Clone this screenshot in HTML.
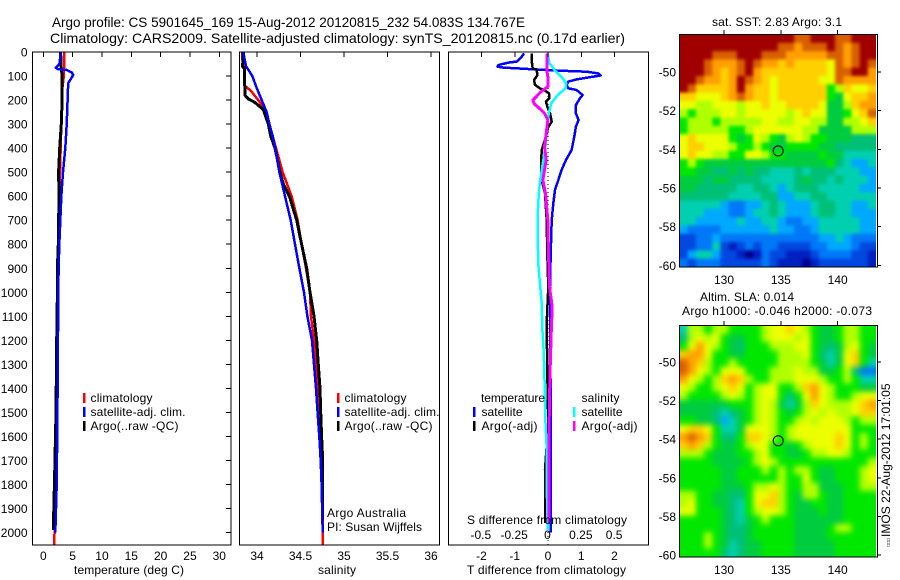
<!DOCTYPE html>
<html lang="en">
<head>
<meta charset="utf-8">
<title>Argo profile CS 5901645_169</title>
<style>
html,body{margin:0;padding:0;background:#fff;}
svg{display:block;}
text{font-family:"Liberation Sans",sans-serif;font-size:12px;fill:#000;}
.title{font-size:14px;}
</style>
</head>
<body>
<svg id="chart" xmlns="http://www.w3.org/2000/svg" width="900" height="580" viewBox="0 0 900 580">
  <defs>
    <filter id="soften-sst" x="-10%" y="-10%" width="120%" height="120%" color-interpolation-filters="sRGB"><feGaussianBlur stdDeviation="1.6"/></filter>
    <filter id="soften-sla" x="-10%" y="-10%" width="120%" height="120%" color-interpolation-filters="sRGB"><feGaussianBlur stdDeviation="3"/></filter>
    <clipPath id="clip-sst"><rect x="679.5" y="34.5" width="196.5" height="232.5"/></clipPath>
    <clipPath id="clip-sla"><rect x="679.5" y="325.5" width="196.5" height="231.5"/></clipPath>
  </defs>
  <rect x="0" y="0" width="900" height="580" fill="#fff"/>
  <text class="title" x="52" y="27" textLength="473" lengthAdjust="spacingAndGlyphs">Argo profile: CS 5901645_169 15-Aug-2012 20120815_232 54.083S 134.767E</text>
  <text class="title" x="50" y="43" textLength="575" lengthAdjust="spacingAndGlyphs">Climatology: CARS2009. Satellite-adjusted climatology: synTS_20120815.nc (0.17d earlier)</text>

  <g id="layer-marks"></g>

  <text x="74" y="574" textLength="110">temperature (deg C)</text>
  <text x="318" y="574" textLength="38">salinity</text>
  <text x="467" y="574" textLength="159">T difference from climatology</text>
  <text x="467" y="524" textLength="160">S difference from climatology</text>

  <text x="90.5" y="402" textLength="62">climatology</text>
  <text x="90.5" y="416" textLength="95">satellite-adj. clim.</text>
  <text x="90.5" y="430" textLength="88">Argo(..raw -QC)</text>
  <text x="344.5" y="402" textLength="62">climatology</text>
  <text x="344.5" y="416" textLength="95">satellite-adj. clim.</text>
  <text x="344.5" y="430" textLength="88">Argo(..raw -QC)</text>
  <text x="327" y="517" textLength="79">Argo Australia</text>
  <text x="327" y="531" textLength="95">PI: Susan Wijffels</text>

  <text x="481" y="402" textLength="64">temperature</text>
  <text x="481.5" y="416" textLength="41">satellite</text>
  <text x="481.5" y="430" textLength="56">Argo(-adj)</text>
  <text x="581.5" y="402" textLength="38">salinity</text>
  <text x="581.5" y="416" textLength="41">satellite</text>
  <text x="581.5" y="430" textLength="56">Argo(-adj)</text>

  <text x="712" y="26" textLength="130">sat. SST: 2.83 Argo: 3.1</text>
  <text x="700" y="301" textLength="94">Altim. SLA: 0.014</text>
  <text x="682" y="315" textLength="190">Argo h1000: -0.046 h2000: -0.073</text>
  <text transform="translate(890 547) rotate(-90)" x="0" y="0"><tspan font-size="5" style="font-size:5px">□□□</tspan><tspan dx="1">IMOS 22-Aug-2012 17:01:05</tspan></text>
</svg>

<script>
/* depth-profile data: depths in metres, temperature in deg C, salinity in PSU */
const climTempDepth = [0,100,150,200,300,500,1000,1500,2053];
const climTempValue = [3.6,3.5,3.25,3.2,3.07,2.85,2.5,2.28,1.87];
const satTempDepth = [0,30,50,65,72,75,85,95,110,130,200,300,400,500,600,700,800,900,1000,1500,1800,2000];
const satTempValue = [2.96,2.85,2.75,2.11,2.55,3.99,4.84,5.1,4.76,4.25,4.15,3.98,3.75,3.35,3.07,2.9,2.73,2.6,2.56,2.4,2.28,2.05];
const argoTempDepth = [0,50,100,200,300,400,500,600,800,900,1000,1200,1500,1750,1990];
const argoTempValue = [2.96,3,3.2,3.2,3.07,2.8,2.6,2.67,2.55,2.4,2.4,2.28,2.17,1.94,1.7];

const climSalDepth = [0,50,60,70,140,145,160,200,240,300,400,500,600,700,800,900,1000,1100,1200,1300,1400,1500,1700,2000,2053];
const climSalValue = [33.831,33.835,33.862,33.854,33.862,33.874,33.927,34.015,34.092,34.142,34.218,34.295,34.398,34.467,34.513,34.563,34.609,34.621,34.655,34.678,34.705,34.724,34.743,34.755,34.755];
const satSalDepth = [0,60,80,100,150,200,250,300,350,400,500,600,700,800,900,1000,1100,1200,1300,1400,1500,1600,1700,1800,2000];
const satSalValue = [33.843,33.874,33.912,33.946,33.996,34.054,34.111,34.142,34.18,34.207,34.257,34.322,34.387,34.437,34.487,34.54,34.579,34.632,34.655,34.678,34.697,34.716,34.732,34.743,34.755];
const argoSalDepth = [0,60,70,180,195,210,240,300,350,400,500,550,600,700,800,900,1000,1100,1200,1300,1400,1500,1600,1700,1950];
const argoSalValue = [33.843,33.835,33.854,33.862,33.9,33.977,34.073,34.13,34.157,34.207,34.264,34.303,34.372,34.456,34.513,34.571,34.609,34.655,34.686,34.705,34.724,34.732,34.743,34.755,34.755];

const satTDiffDepth = [6,19,40,44,54,61,65,72,78,82,89,98,105,114,123,137,151,158,179,193,221,255,283,311,352,408,449,491,533,574,630,699,838,977,1500,2000];
const satTDiffValue = [-0.72,-0.79,-0.94,-1.19,-1.49,-1.52,-1.34,-0.44,0.36,1.16,1.51,1.58,1.26,0.86,0.61,0.56,0.61,0.86,1.04,0.96,0.84,0.84,0.92,0.84,0.79,0.71,0.54,0.41,0.31,0.21,0.16,0.11,0.08,0.06,0.08,0.08];
const argoTDiffDepth = [6,47,68,75,96,117,137,151,161,172,193,207,227,255,290,311,352,408,477,533,588,699,838,977,1129,1337,1546,1739,1961];
const argoTDiffValue = [-0.49,-0.48,-0.46,-0.34,-0.32,-0.42,-0.39,-0.24,-0.09,0.03,0.04,-0.06,-0.02,0.06,0.11,0.01,-0.06,-0.19,-0.21,-0.19,-0.09,-0.04,-0.02,0.01,-0.04,-0.02,0.01,-0.09,-0.09];
const satSDiffDepth = [6,47,75,102,130,151,179,213,255,311,394,463,533,588,671,768,879,990,1046,1143,1254,1407,1545,1656,1823,1989];
const satSDiffValue = [0.0025,0.015,0.0525,0.1025,0.14,0.135,0.0775,0.0275,0.01,-0.005,-0.015,-0.035,-0.055,-0.065,-0.0725,-0.0725,-0.07,-0.0525,-0.0425,-0.04,-0.0275,-0.02,-0.015,-0.005,-0.005,0.0025];
const argoSDiffDepth = [6,47,75,102,123,144,165,186,200,217,232,255,283,339,394,449,533,588,699,838,977,1060,1171,1310,1448,1642,1961];
const argoSDiffValue = [-0.005,-0.005,-0.005,0.0025,0.0025,0.0025,-0.0475,-0.085,-0.11,-0.0975,-0.065,-0.0225,0.0025,-0.01,-0.0225,-0.01,-0.035,-0.015,0.0025,0.0075,0.015,0.035,0.0275,0.02,0.015,0.01,0.01];

/* tick labels */
const depthTicks = [0,100,200,300,400,500,600,700,800,900,1000,1100,1200,1300,1400,1500,1600,1700,1800,1900,2000];
const tempTicks = [0,5,10,15,20,25,30];
const salTicks = [34,34.5,35,35.5,36];
const tDiffTicks = [-2,-1,0,1,2];
const sDiffTicks = [-0.5,-0.25,0,0.25,0.5];
const lonTicks = [130,135,140];
const latTicks = [-50,-52,-54,-56,-58,-60];
const argoLon = 134.767;
const argoLat = -54.083;

/* satellite SST, colour level per cell, north to south */
const sstGrid = [
[14,14,14,14,14,14,14,14,14,14,14,14,14,14,13,13,14,14,14,13,13,14,14,14],
[14,14,14,14,14,14,14,14,14,14,14,14,13,13,12,13,13,13,14,13,12,13,14,14],
[14,14,14,14,13,13,13,14,14,14,13,13,13,12,12,12,12,12,13,13,12,13,14,14],
[14,14,14,13,12,12,12,13,14,13,12,12,11,12,11,11,11,11,10,13,12,13,14,13],
[14,14,14,13,12,11,12,13,14,12,11,11,11,11,11,11,11,11,10,13,13,14,14,12],
[14,14,13,12,12,11,12,14,13,12,11,10,11,11,11,11,11,10,10,13,12,12,12,12],
[14,13,11,11,11,11,12,14,12,11,11,10,11,11,11,11,11,11,8,9,11,10,10,11],
[11,11,10,10,10,11,12,13,12,11,11,10,11,11,11,11,11,11,8,7,10,11,11,12],
[10,10,9,9,10,10,10,9,10,10,11,10,10,11,11,11,11,10,7,7,9,11,12,12],
[9,8,9,9,9,10,10,9,10,10,10,10,10,9,10,11,10,10,7,7,8,10,11,13],
[8,9,9,9,8,9,9,9,9,9,10,10,9,9,10,10,9,9,7,7,9,9,10,11],
[8,9,9,9,9,9,8,8,9,10,10,10,10,10,10,9,9,7,7,7,7,9,9,9],
[10,11,10,10,10,10,8,7,8,10,9,8,7,9,10,9,8,8,7,7,7,6,6,6],
[10,11,11,10,10,10,9,8,8,9,8,7,7,8,8,8,8,7,7,6,6,6,6,6],
[10,11,10,10,9,9,8,8,10,10,9,8,8,7,7,7,7,8,7,7,5,5,5,5],
[8,9,8,7,7,7,7,7,7,7,7,7,7,7,7,7,7,7,8,6,5,4,4,5],
[8,8,7,7,6,6,7,6,7,6,6,5,5,5,6,5,6,6,6,5,5,5,4,4],
[7,7,7,6,7,7,6,6,6,6,5,5,5,5,6,7,6,6,5,6,5,5,5,4],
[7,7,6,6,6,6,6,5,5,6,6,5,4,5,6,6,6,5,5,5,5,5,4,4],
[6,6,6,6,6,6,5,5,5,5,6,6,4,4,5,5,6,6,5,5,5,5,5,5],
[5,5,5,5,5,4,3,3,4,4,5,6,5,4,4,4,5,6,6,5,5,4,4,5],
[5,5,5,4,4,4,3,3,4,5,5,6,5,4,4,4,5,6,6,5,5,4,4,4],
[5,5,4,4,4,4,4,5,4,4,5,5,4,3,3,4,4,5,5,5,5,5,4,4],
[4,3,3,3,3,4,4,4,4,4,4,5,4,4,3,3,4,5,5,5,5,5,4,4],
[2,2,3,3,4,3,3,3,3,3,3,3,3,3,3,3,3,4,4,5,4,3,3,3],
[2,2,3,3,5,2,1,2,3,2,3,3,2,2,2,2,3,3,4,4,4,3,2,2],
[2,4,5,5,4,2,2,1,0,1,3,2,2,1,1,1,2,3,3,3,3,2,2,1],
[3,2,3,3,3,2,2,2,2,2,3,2,1,1,1,0,1,2,2,2,2,2,2,1]
];

/* altimetric SLA, colour level per cell, north to south */
const slaGrid = [
[5,9,9,8,9,9,8,8,8,8,9,10,10,11,10,9,8,7,7,8,9,9,8,8],
[6,9,10,9,10,8,7,7,8,8,9,10,10,10,9,10,8,7,7,8,9,9,8,8],
[8,10,12,10,9,8,7,6,8,8,8,9,9,9,10,10,8,7,6,7,9,10,8,7],
[11,12,12,10,8,8,7,7,8,8,8,8,9,9,9,10,8,6,5,7,10,11,8,7],
[13,12,11,9,8,8,9,8,8,8,8,8,9,9,9,9,8,7,5,7,10,11,8,5],
[13,12,10,9,8,10,10,10,8,8,8,9,9,9,10,9,9,7,7,8,9,6,3,3],
[12,10,9,8,9,11,12,11,9,8,8,9,9,9,10,10,10,9,8,8,9,8,5,5],
[10,9,8,8,9,10,11,10,8,9,10,10,8,8,9,11,12,10,9,8,8,8,7,7],
[9,8,8,8,8,9,10,9,8,9,10,10,8,6,8,10,12,10,9,8,8,9,10,10],
[7,7,7,7,7,7,8,8,8,9,10,9,7,5,7,9,11,10,9,9,9,10,11,12],
[7,7,7,7,6,5,6,7,8,9,10,9,8,7,8,9,10,9,10,9,9,10,11,11],
[8,8,7,7,6,4,5,7,8,9,10,9,8,8,9,10,9,10,10,10,9,8,9,9],
[10,11,11,10,8,5,5,7,10,10,10,9,8,9,10,10,10,10,10,10,10,8,8,8],
[12,13,12,11,8,6,6,8,11,11,10,9,8,9,10,10,10,10,10,11,10,8,9,8],
[11,12,11,9,8,7,7,8,9,10,10,8,8,7,8,9,10,10,10,11,10,8,9,8],
[9,9,9,8,7,7,7,8,8,9,10,8,8,7,7,8,9,9,10,10,9,8,8,8],
[8,8,8,8,7,7,7,7,8,9,10,9,8,8,8,8,8,8,8,8,8,8,8,9],
[8,8,8,8,8,7,7,8,8,8,9,8,9,8,9,9,8,7,7,8,8,8,9,10],
[8,8,8,8,8,7,7,8,8,8,8,8,9,8,8,10,8,7,7,8,8,8,9,10],
[8,8,8,8,8,7,7,7,8,9,9,10,9,8,8,9,9,7,7,7,8,8,9,9],
[9,9,8,8,7,7,6,6,8,10,10,11,9,8,7,9,9,8,7,7,8,8,8,8],
[9,10,8,8,7,7,6,5,8,10,11,11,9,8,7,7,8,8,7,7,8,8,8,8],
[10,10,8,8,8,7,6,5,8,9,10,10,9,8,7,7,7,8,7,7,8,8,8,8],
[8,8,8,8,8,7,6,5,7,8,9,8,8,8,7,7,7,7,7,7,8,8,8,8],
[8,8,8,8,8,7,6,6,7,8,8,8,8,8,7,7,7,7,8,9,9,8,8,8],
[8,8,8,9,8,7,6,6,7,8,8,8,8,8,7,7,7,7,8,8,8,8,8,8],
[8,8,8,9,8,7,5,6,7,7,8,8,8,8,7,7,7,7,7,8,8,8,8,8],
[8,8,8,8,8,6,5,6,7,7,8,8,8,8,7,7,7,7,7,8,8,8,8,8]
];

const palette = ['#000090','#0020c0','#0048e0','#0078f8','#00a8ff','#00d0b0','#00c078','#00cc40','#00e800','#b0ff00','#ecff00','#ffd000','#ffa000','#d86000','#a00000'];

/* axis functions */
const depthY = d => 52 + d * 0.2403;
const tempX = t => 43.3 + t * 5.867;
const salX = s => 257 + (s - 34) * 87;
const tDiffX = t => 548 + t * 33.25;
const sDiffX = s => 547.5 + s * 133.3;
const lonX = lon => 724 + (lon - 130) * 11.37;
const sstLatY = lat => 72 + (-50 - lat) * 19.33;
const slaLatY = lat => 362 + (-50 - lat) * 19.3;

const NS = 'http://www.w3.org/2000/svg';
const root = document.getElementById('layer-marks');

function make(tag, attrs, text) {
  const el = document.createElementNS(NS, tag);
  for (const k in attrs) el.setAttribute(k, attrs[k]);
  if (text !== undefined) el.textContent = text;
  return el;
}

function addLine(name, x1, y1, x2, y2, color, w, dash) {
  const el = make('line', {x1: x1, y1: y1, x2: x2, y2: y2, stroke: color, 'stroke-width': w, 'shape-rendering': 'crispEdges'});
  if (dash) el.setAttribute('stroke-dasharray', dash);
  
  
  root.appendChild(el);
}

function addLabel(name, x, y, str, anchor) {
  const el = make('text', {x: x, y: y, 'text-anchor': anchor}, str);
  
  
  root.appendChild(el);
}

function addProfile(name, depths, values, xFn, color, w) {
  const pts = depths.map((d, i) => xFn(values[i]).toFixed(1) + ',' + depthY(d).toFixed(1)).join(' ');
  const el = make('polyline', {points: pts, fill: 'none', stroke: color, 'stroke-width': w, 'stroke-linejoin': 'round', 'shape-rendering': 'crispEdges'});
  
  
  root.appendChild(el);
}

function addBox(name, x0, y0, x1, y1) {
  const el = make('rect', {x: x0, y: y0, width: x1 - x0, height: y1 - y0, fill: 'none', stroke: '#000', 'stroke-width': 1, 'shape-rendering': 'crispEdges'});
  
  
  root.appendChild(el);
}

function addSwatch(name, x, y, color) {
  const el = make('rect', {x: x - 1, y: y, width: 2.4, height: 10, fill: color, 'shape-rendering': 'crispEdges'});
  
  
  root.appendChild(el);
}

function addHeatmap(prefix, grid, x0, y0, x1, y1) {
  const rows = grid.length;
  const cols = grid[0].length;
  const cw = (x1 - x0) / cols;
  const ch = (y1 - y0) / rows;
  const bleed = 10;
  const clipGroup = make('g', {'clip-path': 'url(#clip-' + prefix + ')'});
  
  
  const cellGroup = make('g', {filter: 'url(#soften-' + prefix + ')'});
  
  
  grid.forEach((row, r) => row.forEach((level, c) => {
    const left = x0 + c * cw - (c === 0 ? bleed : 0);
    const right = x0 + (c + 1) * cw + (c === cols - 1 ? bleed : 0);
    const top = y0 + r * ch - (r === 0 ? bleed : 0);
    const bottom = y0 + (r + 1) * ch + (r === rows - 1 ? bleed : 0);
    const el = make('rect', {x: left.toFixed(2), y: top.toFixed(2), width: (right - left + 0.4).toFixed(2), height: (bottom - top + 0.4).toFixed(2), fill: palette[level]});
    
    
    cellGroup.appendChild(el);
  }));
  clipGroup.appendChild(cellGroup);
  root.appendChild(clipGroup);
}

function addCircle(name, cx, cy) {
  const el = make('circle', {cx: cx, cy: cy, r: 5, fill: 'none', stroke: '#000', 'stroke-width': 1});
  
  
  root.appendChild(el);
}

const PT = 52, PB = 545;

/* panel 1: temperature */
addProfile('temperature-climatology-line', climTempDepth, climTempValue, tempX, '#f00', 2.5);
addProfile('temperature-argo-line', argoTempDepth, argoTempValue, tempX, '#000', 3);
addProfile('temperature-satellite-line', satTempDepth, satTempValue, tempX, '#00f', 2.5);
addBox('temperature-panel-frame', 32.5, PT, 231, PB);
depthTicks.forEach(d => {
  addLine('temperature-depth-tick', 226, depthY(d), 231, depthY(d), '#000', 1);
  addLabel('depth-tick-label', 27.5, depthY(d) + 4.5, String(d), 'end');
});
tempTicks.forEach(t => {
  addLine('temperature-tick', tempX(t), PT, tempX(t), PT + 5, '#000', 1);
  addLabel('temperature-tick-label', tempX(t), 560, String(t), 'middle');
});
addSwatch('legend-climatology-swatch', 84, 393, '#f00');
addSwatch('legend-satellite-swatch', 84, 407, '#00f');
addSwatch('legend-argo-swatch', 84, 421, '#000');

/* panel 2: salinity */
addProfile('salinity-climatology-line', climSalDepth, climSalValue, salX, '#f00', 2.5);
addProfile('salinity-argo-line', argoSalDepth, argoSalValue, salX, '#000', 3);
addProfile('salinity-satellite-line', satSalDepth, satSalValue, salX, '#00f', 2.5);
addBox('salinity-panel-frame', 239.5, PT, 439.5, PB);
salTicks.forEach(s => {
  addLine('salinity-tick', salX(s), PT, salX(s), PT + 5, '#000', 1);
  addLabel('salinity-tick-label', salX(s), 560, String(s), 'middle');
});
addSwatch('legend-climatology-swatch-salinity', 338, 393, '#f00');
addSwatch('legend-satellite-swatch-salinity', 338, 407, '#00f');
addSwatch('legend-argo-swatch-salinity', 338, 421, '#000');

/* panel 3: differences */
addLine('zero-difference-line', 548, PT, 548, PB, '#000', 1, '1 3');
addProfile('t-difference-satellite-line', satTDiffDepth, satTDiffValue, tDiffX, '#00f', 2.5);
addProfile('t-difference-argo-line', argoTDiffDepth, argoTDiffValue, tDiffX, '#000', 2.5);
addProfile('s-difference-satellite-line', satSDiffDepth, satSDiffValue, sDiffX, '#0ff', 2.5);
addProfile('s-difference-argo-line', argoSDiffDepth, argoSDiffValue, sDiffX, '#f0f', 3);
addBox('difference-panel-frame', 448.5, PT, 648.5, PB);
tDiffTicks.forEach(t => {
  addLine('t-difference-tick', tDiffX(t), PT, tDiffX(t), PT + 5, '#000', 1);
  addLabel('t-difference-tick-label', tDiffX(t), 560, String(t), 'middle');
});
sDiffTicks.forEach(s => {
  addLabel('s-difference-tick-label', sDiffX(s), 539, String(s), 'middle');
});
addSwatch('legend-t-satellite-swatch', 474, 407, '#00f');
addSwatch('legend-t-argo-swatch', 474, 421, '#000');
addSwatch('legend-s-satellite-swatch', 574, 407, '#0ff');
addSwatch('legend-s-argo-swatch', 574, 421, '#f0f');

/* SST map */
addHeatmap('sst', sstGrid, 679.5, 34.5, 876, 267);
addBox('sst-map-frame', 679.5, 34.5, 877.5, 267);
lonTicks.forEach(l => {
  addLine('sst-lon-tick', lonX(l), 30, lonX(l), 34.5, '#000', 1);
  addLabel('sst-lon-tick-label', lonX(l), 284, String(l), 'middle');
});
latTicks.forEach(l => {
  addLine('sst-lat-tick', 877.5, sstLatY(l), 881, sstLatY(l), '#000', 1);
  addLabel('sst-lat-tick-label', 676, sstLatY(l) + 4.5, String(l), 'end');
});
addCircle('sst-argo-position-marker', lonX(argoLon), sstLatY(argoLat));

/* SLA map */
addHeatmap('sla', slaGrid, 679.5, 325.5, 876, 557);
addBox('sla-map-frame', 679.5, 325.5, 877.5, 557);
lonTicks.forEach(l => {
  addLine('sla-lon-tick', lonX(l), 321, lonX(l), 325.5, '#000', 1);
  addLabel('sla-lon-tick-label', lonX(l), 574, String(l), 'middle');
});
latTicks.forEach(l => {
  addLine('sla-lat-tick', 877.5, slaLatY(l), 881, slaLatY(l), '#000', 1);
  addLabel('sla-lat-tick-label', 676, slaLatY(l) + 4.5, String(l), 'end');
});
addCircle('sla-argo-position-marker', lonX(argoLon), slaLatY(argoLat));
</script>
</body>
</html>
